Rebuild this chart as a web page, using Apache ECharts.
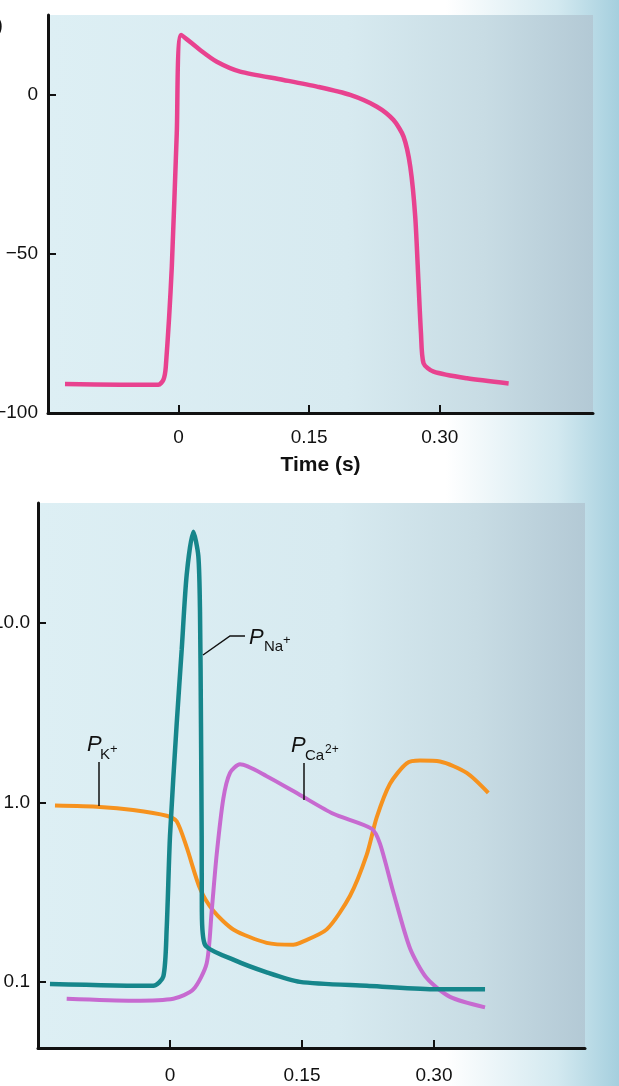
<!DOCTYPE html>
<html><head><meta charset="utf-8">
<script src="https://cdn.jsdelivr.net/npm/echarts@6/dist/echarts.min.js"></script>
<style>html,body{margin:0;padding:0;background:#fff}#c{width:619px;height:1086px}</style>
</head><body><div id="c"></div>
<script>
// Panel (a): membrane potential (mV) vs time (s)
const apTime    = [-0.1305, -0.067, -0.0232, -0.0175, -0.0147, -0.0078, -0.0021, 0.003, 0.0247, 0.0439, 0.0707, 0.1205, 0.1589, 0.1971, 0.2278, 0.2469, 0.2584, 0.2661, 0.2718, 0.2756, 0.2784, 0.2814, 0.2929, 0.3313, 0.3791];
const apVoltage = [-90.9, -91.1, -91.1, -89.6, -85.5, -54.1, -12.2, 18.7, 14.0, 10.3, 7.2, 4.6, 2.5, -0.1, -3.8, -8.0, -13.2, -22.6, -38.3, -59.3, -74.9, -84.4, -87.0, -89.1, -90.7];

// Panel (b): relative permeabilities (log scale) vs time (s)
const naTime = [-0.1364, -0.019, -0.0076, -0.0038, 0.0, 0.0076, 0.0133, 0.019, 0.0265, 0.0322, 0.0341, 0.0352, 0.036, 0.0362, 0.0398, 0.0719, 0.1099, 0.1477, 0.2235, 0.2992, 0.358];
const naPerm = [0.0974, 0.095, 0.107, 0.196, 0.65, 2.74, 7.1, 18.6, 32.2, 23.6, 11.5, 2.74, 0.65, 0.249, 0.161, 0.133, 0.113, 0.1, 0.095, 0.091, 0.091];

const kTime = [-0.1307, -0.0795, -0.042, -0.0038, 0.0076, 0.019, 0.0341, 0.0492, 0.0719, 0.1099, 0.1401, 0.1477, 0.1781, 0.2045, 0.2235, 0.2349, 0.25, 0.269, 0.2841, 0.3068, 0.3372, 0.3617];
const kPerm = [0.96, 0.944, 0.908, 0.843, 0.785, 0.561, 0.331, 0.249, 0.196, 0.165, 0.161, 0.165, 0.196, 0.301, 0.51, 0.824, 1.27, 1.65, 1.71, 1.69, 1.46, 1.13];

const caTime = [-0.1174, -0.0417, 0.0038, 0.0265, 0.0417, 0.0474, 0.053, 0.0606, 0.0682, 0.0795, 0.1099, 0.1477, 0.1856, 0.229, 0.2386, 0.2538, 0.2727, 0.2917, 0.3182, 0.358];
const caPerm = [0.0805, 0.0785, 0.0805, 0.0908, 0.127, 0.249, 0.51, 1.05, 1.46, 1.63, 1.40, 1.10, 0.864, 0.714, 0.589, 0.316, 0.154, 0.105, 0.0825, 0.0721];

const timeTicks = [0, 0.15, 0.30];
const voltTicks = [-100, -50, 0];
const permTicks = [0.1, 1, 10];
const xTitle = 'Time (s)';

const font = '"Liberation Sans", Arial, Helvetica, sans-serif';
const ink = '#111';
const zip = (a, b) => a.map((v, i) => [v, b[i]]);
const plotBg = {type: 'linear', x: 0, y: 0, x2: 1, y2: 0, colorStops: [
  {offset: 0, color: '#ddeff4'}, {offset: 0.55, color: '#d7eaf0'},
  {offset: 0.8, color: '#c8dce4'}, {offset: 1, color: '#b3c9d5'}]};
const pageBg = {type: 'linear', x: 0, y: 0, x2: 1, y2: 0, colorStops: [
  {offset: 0, color: '#ffffff'}, {offset: 0.72, color: '#ffffff'},
  {offset: 0.9, color: '#d3e9f0'}, {offset: 1, color: '#a5cfde'}]};

const axisLine = {show: true, onZero: false, lineStyle: {color: ink, width: 3}};
const tick = vals => ({show: true, inside: true, length: 8, customValues: vals, lineStyle: {color: ink, width: 2}});
const lab = (vals, fmt, margin) => ({show: true, customValues: vals, formatter: fmt, fontSize: 19, color: ink, fontFamily: font, margin: margin});
const timeFmt = v => v === 0 ? '0' : v.toFixed(2);
const lineSeries = (xi, t, v, color, width, z) => ({
  type: 'line', xAxisIndex: xi, yAxisIndex: xi, data: zip(t, v), smooth: 0.25,
  showSymbol: false, lineStyle: {color: color, width: width}, z: z
});

const chart = echarts.init(document.getElementById('c'), null, {renderer: 'canvas'});
chart.setOption({
  animation: false,
  grid: [
    {left: 48, top: 15, width: 545, height: 398, show: true, backgroundColor: plotBg, borderWidth: 0, outerBoundsMode: 'none', containLabel: false},
    {left: 38, top: 503, width: 547, height: 545, show: true, backgroundColor: plotBg, borderWidth: 0, outerBoundsMode: 'none', containLabel: false}
  ],
  xAxis: [
    {gridIndex: 0, type: 'value', min: -0.15, max: 0.476, axisLine: axisLine, axisTick: tick(timeTicks),
     axisLabel: lab(timeTicks, timeFmt, 15), splitLine: {show: false},
     name: xTitle, nameLocation: 'middle', nameGap: 42,
     nameTextStyle: {fontSize: 21, fontWeight: 'bold', color: ink, fontFamily: font}},
    {gridIndex: 1, type: 'value', min: -0.15, max: 0.4716, axisLine: axisLine, axisTick: tick(timeTicks),
     axisLabel: lab(timeTicks, timeFmt, 18), splitLine: {show: false}}
  ],
  yAxis: [
    {gridIndex: 0, type: 'value', min: -100, max: 25, axisLine: axisLine, axisTick: tick(voltTicks),
     axisLabel: lab(voltTicks, v => String(v).replace('-', '\u2212'), 10), splitLine: {show: false}},
    {gridIndex: 1, type: 'log', logBase: 10, min: 0.0428, max: 46.6, axisLine: axisLine, axisTick: tick(permTicks),
     axisLabel: lab(permTicks, v => Number(v).toFixed(1), 8), splitLine: {show: false}}
  ],
  series: [
    lineSeries(0, apTime, apVoltage, '#e8428f', 4.5, 2),
    lineSeries(1, kTime, kPerm, '#f6921e', 4, 2),
    lineSeries(1, caTime, caPerm, '#c76ad0', 4, 3),
    lineSeries(1, naTime, naPerm, '#16868b', 4.5, 4)
  ],
  graphic: [
    {type: 'rect', z: -100, silent: true, shape: {x: 0, y: 0, width: 619, height: 1086}, style: {fill: pageBg}},
    {type: 'text', z: 10, style: {x: 3, y: 26, text: '(a)', textAlign: 'right', textVerticalAlign: 'middle', fontSize: 20, fontFamily: font, fill: ink}},
    // P K+
    {type: 'polyline', z: 10, shape: {points: [[99, 762], [99, 806]]}, style: {stroke: ink, lineWidth: 1.5}},
    {type: 'text', z: 10, style: {x: 87, y: 745, text: 'P', textVerticalAlign: 'middle', fontSize: 22, fontStyle: 'italic', fontFamily: font, fill: ink}},
    {type: 'text', z: 10, style: {x: 100, y: 755, text: 'K', textVerticalAlign: 'middle', fontSize: 15, fontFamily: font, fill: ink}},
    {type: 'text', z: 10, style: {x: 110, y: 749, text: '+', textVerticalAlign: 'middle', fontSize: 13, fontFamily: font, fill: ink}},
    // P Na+
    {type: 'polyline', z: 10, shape: {points: [[203, 655], [230, 636], [245, 636]]}, style: {stroke: ink, lineWidth: 1.5, fill: null}},
    {type: 'text', z: 10, style: {x: 249, y: 638, text: 'P', textVerticalAlign: 'middle', fontSize: 22, fontStyle: 'italic', fontFamily: font, fill: ink}},
    {type: 'text', z: 10, style: {x: 264, y: 647, text: 'Na', textVerticalAlign: 'middle', fontSize: 15, fontFamily: font, fill: ink}},
    {type: 'text', z: 10, style: {x: 283, y: 640, text: '+', textVerticalAlign: 'middle', fontSize: 13, fontFamily: font, fill: ink}},
    // P Ca2+
    {type: 'polyline', z: 10, shape: {points: [[304, 763], [304, 800]]}, style: {stroke: ink, lineWidth: 1.5}},
    {type: 'text', z: 10, style: {x: 291, y: 746, text: 'P', textVerticalAlign: 'middle', fontSize: 22, fontStyle: 'italic', fontFamily: font, fill: ink}},
    {type: 'text', z: 10, style: {x: 305, y: 756, text: 'Ca', textVerticalAlign: 'middle', fontSize: 15, fontFamily: font, fill: ink}},
    {type: 'text', z: 10, style: {x: 325, y: 750, text: '2+', textVerticalAlign: 'middle', fontSize: 12, fontFamily: font, fill: ink}}
  ]
});
</script></body></html>
